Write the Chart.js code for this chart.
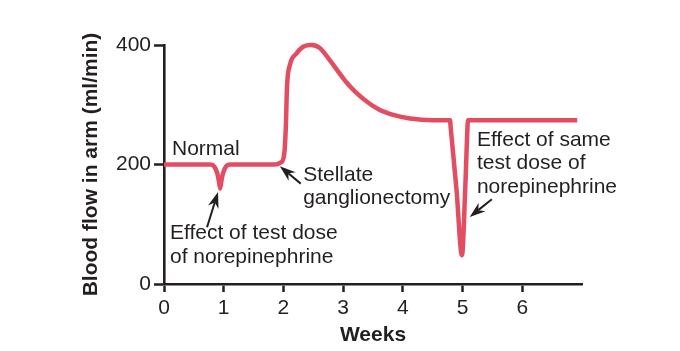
<!DOCTYPE html>
<html>
<head>
<meta charset="utf-8">
<script src="https://cdn.jsdelivr.net/npm/chart.js@4/dist/chart.umd.min.js"></script>
<style>
html,body{margin:0;padding:0;background:#fff;}
#wrap{width:680px;height:351px;position:relative;}
</style>
</head>
<body>
<div id="wrap"><canvas id="c"></canvas></div>
<script>
// ---- data ----
const weeks = [0, 0.78, 0.84, 0.89, 0.92, 0.94, 0.96, 0.99, 1.04, 1.1,
  1.86, 1.95, 2.01, 2.04, 2.06, 2.11, 2.22, 2.33, 2.47, 2.61, 2.75, 2.9, 3.05, 3.2, 3.4, 3.6, 3.84, 4.12, 4.5,
  4.79, 4.8, 4.9, 4.99, 5.045, 5.085, 5.09, 6.92];
const bloodFlow = [200, 200, 197, 186, 172, 160, 172, 186, 197, 200,
  200, 203, 215, 262, 330, 367, 386, 397, 400, 395, 378, 358, 338, 322, 305, 292, 283, 277, 274,
  274, 263, 156, 48, 161, 268, 274, 274];
const xTickValues = [0, 1, 2, 3, 4, 5, 6];
const yTickValues = [0, 200, 400];
const labelTexts = [
  ["Normal"],
  ["Stellate", "ganglionectomy"],
  ["Effect of test dose", "of norepinephrine"],
  ["Effect of same", "test dose of", "norepinephrine"]
];

const FONT = "'Liberation Sans', Arial, Helvetica, sans-serif";
const INK = '#231f20';

const annotationPlugin = {
  id: 'notes',
  afterDatasetsDraw(chart, args, opts) {
    const ctx = chart.ctx, xs = chart.scales.x, ys = chart.scales.y;
    ctx.save();
    ctx.fillStyle = INK;
    ctx.font = '21px ' + FONT;
    ctx.textBaseline = 'alphabetic';
    ctx.textAlign = 'left';
    opts.labels.forEach(l => {
      const px = xs.getPixelForValue(l.x), py = ys.getPixelForValue(l.y);
      l.lines.forEach((t, i) => ctx.fillText(t, px, py + i * opts.lineGap));
    });
    ctx.strokeStyle = INK;
    opts.arrows.forEach(a => {
      const x1 = xs.getPixelForValue(a.from[0]), y1 = ys.getPixelForValue(a.from[1]);
      const x2 = xs.getPixelForValue(a.to[0]), y2 = ys.getPixelForValue(a.to[1]);
      const ang = Math.atan2(y2 - y1, x2 - x1);
      const hl = 16, hw = 5.5, notch = 5;
      const c = Math.cos(ang), s = Math.sin(ang);
      const bx = x2 - hl * c, by = y2 - hl * s;
      const nx = x2 - (hl - notch) * c, ny = y2 - (hl - notch) * s;
      ctx.lineWidth = 2;
      ctx.beginPath(); ctx.moveTo(x1, y1); ctx.lineTo(nx, ny); ctx.stroke();
      ctx.beginPath();
      ctx.moveTo(x2, y2);
      ctx.lineTo(bx + hw * s, by - hw * c);
      ctx.lineTo(nx, ny);
      ctx.lineTo(bx - hw * s, by + hw * c);
      ctx.closePath(); ctx.fill();
    });
    ctx.restore();
  }
};

new Chart(document.getElementById('c'), {
  type: 'line',
  data: {
    datasets: [{
      data: weeks.map((w, i) => ({x: w, y: bloodFlow[i]})),
      borderColor: '#e34d62',
      borderWidth: 4.5,
      pointRadius: 0,
      fill: false,
      clip: false,
      cubicInterpolationMode: 'monotone',
      borderJoinStyle: 'round',
      borderCapStyle: 'butt'
    }]
  },
  options: {
    responsive: true,
    maintainAspectRatio: false,
    animation: false,
    events: [],
    layout: {padding: {left: 0, right: 98, top: 45, bottom: 0}},
    plugins: {
      legend: {display: false},
      tooltip: {enabled: false},
      notes: {
        lineGap: 23.5,
        labels: [
          {x: 0.134, y: 216, lines: labelTexts[0]},
          {x: 2.33, y: 173, lines: labelTexts[1]},
          {x: 0.10, y: 75, lines: labelTexts[2]},
          {x: 5.24, y: 231, lines: labelTexts[3]}
        ],
        arrows: [
          {from: [2.29, 168], to: [1.94, 197]},
          {from: [0.72, 95], to: [0.905, 154]},
          {from: [5.49, 142], to: [5.12, 112]}
        ]
      }
    },
    scales: {
      x: {
        type: 'linear',
        min: 0, max: 7,
        afterBuildTicks: s => { s.ticks = xTickValues.map(v => ({value: v})); },
        afterFit: s => { s.height = 67; },
        ticks: {color: INK, font: {family: FONT, size: 21}, padding: 4, maxRotation: 0},
        grid: {drawOnChartArea: false, drawTicks: true, tickLength: 8, tickWidth: 2.5, tickColor: INK},
        border: {display: true, color: INK, width: 2.6},
        title: {display: true, text: 'Weeks', color: INK, font: {family: FONT, size: 21, weight: 'bold'}, padding: {top: 0, bottom: 3}}
      },
      y: {
        min: 0, max: 400,
        afterBuildTicks: s => { s.ticks = yTickValues.map(v => ({value: v})); },
        afterFit: s => { s.width = 164; },
        ticks: {color: INK, font: {family: FONT, size: 21}, padding: 3},
        grid: {drawOnChartArea: false, drawTicks: true, tickLength: 10, tickWidth: 2.5, tickColor: INK},
        border: {display: true, color: INK, width: 2.6},
        title: {display: true, text: 'Blood flow in arm (ml/min)', color: INK, font: {family: FONT, size: 21, weight: 'bold'}, padding: {top: 79, bottom: 0}}
      }
    }
  },
  plugins: [annotationPlugin]
});
</script>
</body>
</html>
